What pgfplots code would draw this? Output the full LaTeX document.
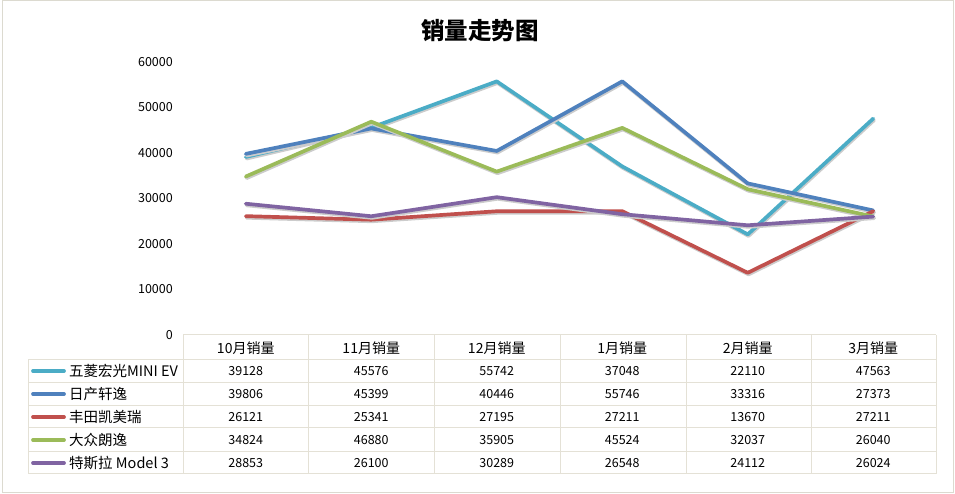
\documentclass[border=0pt]{standalone}
\usepackage{pgfplots}
\usepackage{pgfplotstable}
\pgfplotsset{compat=1.18}
\usepackage{fontspec}
\setmainfont{Noto Sans CJK SC}
\definecolor{cA}{HTML}{4BACC6}
\definecolor{cB}{HTML}{4F81BD}
\definecolor{cC}{HTML}{C0504D}
\definecolor{cD}{HTML}{9BBB59}
\definecolor{cE}{HTML}{8064A2}
\definecolor{tline}{HTML}{E4E1D6}
\definecolor{bline}{HTML}{DCDAD0}
\pgfplotstableread{
x A B C D E
0 39128 39806 26121 34824 28853
1 45576 45399 25341 46880 26100
2 55742 40446 27195 35905 30289
3 37048 55746 27211 45524 26548
4 22110 33316 13670 32037 24112
5 47563 27373 27211 26040 26024
}\salesdata
\begin{document}
\begin{tikzpicture}[x=1pt,y=1pt]
\path[use as bounding box] (0,0) rectangle (955,494);
\draw[bline,line width=1pt] (2.5,1.5) rectangle (953,493);
\node[font=\bfseries\fontsize{23.5}{27}\selectfont] at (480,463) {销量走势图};
\begin{axis}[
  at={(183pt,159pt)}, anchor=south west,
  width=753pt, height=273pt, scale only axis,
  xmin=-0.5, xmax=5.5, ymin=0, ymax=60000,
  axis line style={draw=none},
  major tick length=0pt,
  xtick=\empty,
  ytick={0,10000,...,60000},
  scaled y ticks=false,
  /pgf/number format/1000 sep={},
  /pgf/number format/assume math mode=true,
  yticklabel style={font=\fontsize{12.5}{14}\selectfont, anchor=east, inner sep=0pt, xshift=-10pt},
  clip=false,
  every axis plot/.append style={line width=3.7pt, line join=round, line cap=round,
     preaction={draw=black!20, line width=3.7pt, transform canvas={shift={(0.8pt,-1.6pt)}}}},
]
\addplot[cA, no marks] table[x=x,y=A] {\salesdata};
\addplot[cB, no marks] table[x=x,y=B] {\salesdata};
\addplot[cC, no marks] table[x=x,y=C] {\salesdata};
\addplot[cD, no marks] table[x=x,y=D] {\salesdata};
\addplot[cE, no marks] table[x=x,y=E] {\salesdata};
\end{axis}
% data table
\begin{scope}[tline, line width=1pt]
\draw (183,159) -- (936,159);
\draw (183,134) -- (936,134);
\draw (28,134) -- (183,134);
\foreach \yy in {111,88,66,42,20} \draw (28,\yy) -- (936,\yy);
\draw (28,134) -- (28,20);
\foreach \xx in {183,308.5,434,560,686,811,936} \draw (\xx,159) -- (\xx,20);
\end{scope}
\foreach \lab [count=\i from 0] in {10月销量,11月销量,12月销量,1月销量,2月销量,3月销量}
  \node[font=\fontsize{14}{16}\selectfont] at ({245.75+125.5*\i},146) {\lab};
\foreach \c/\yy/\lab in {cA/123/五菱宏光MINI EV, cB/100/日产轩逸, cC/77/丰田凯美瑞, cD/54/大众朗逸, cE/31/特斯拉 Model 3}{
  \draw[\c, line width=3.7pt, line cap=round] (33,\yy) -- (64,\yy);
  \node[anchor=west, inner sep=0pt, font=\fontsize{14.5}{16}\selectfont] at (69,\yy) {\lab};
}
\foreach \row [count=\r from 0] in {
  {39128,45576,55742,37048,22110,47563},
  {39806,45399,40446,55746,33316,27373},
  {26121,25341,27195,27211,13670,27211},
  {34824,46880,35905,45524,32037,26040},
  {28853,26100,30289,26548,24112,26024}}{
  \foreach \v [count=\i from 0] in \row
    \node[font=\fontsize{12.5}{14}\selectfont] at ({245.75+125.5*\i},{123-23*\r}) {\v};
}
\end{tikzpicture}
\end{document}
